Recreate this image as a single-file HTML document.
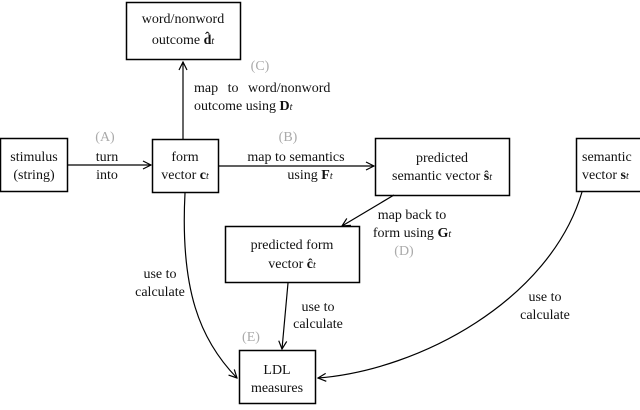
<!DOCTYPE html>
<html><head><style>
body{margin:0;background:#fff}
text{font-family:'Liberation Serif','DejaVu Serif',serif;font-size:14px;fill:#111}
.g{fill:#aaa}
</style></head><body>
<svg width="640" height="405" viewBox="0 0 640 405" xmlns="http://www.w3.org/2000/svg" font-family="Liberation Serif, DejaVu Serif, serif">
<defs><marker id="a" markerWidth="10" markerHeight="10" refX="9" refY="5" orient="auto" markerUnits="userSpaceOnUse"><path d="M1,1 L9,5 L1,9" fill="none" stroke="#000" stroke-width="1.2"/></marker></defs>
<g fill="none" stroke="#000" stroke-width="1.5">
<rect x="126.5" y="2.5" width="114" height="57"/>
<rect x="0.5" y="138.5" width="67" height="53"/>
<rect x="152.5" y="139.5" width="66" height="53"/>
<rect x="375.5" y="138.5" width="134" height="57"/>
<rect x="576.5" y="138.5" width="70" height="53"/>
<rect x="225.5" y="226.5" width="134" height="56"/>
<rect x="239.5" y="350.5" width="76" height="53"/>
</g>
<g fill="none" stroke="#000" stroke-width="1.2" marker-end="url(#a)">
<path d="M68,165 L151,165"/>
<path d="M183,139 L183,62"/>
<path d="M219,166 L374,166"/>
<path d="M394,195 L342,226"/>
<path d="M288,283 L282,349"/>
<path d="M185,193 C180,290 200,340 237,378"/>
<path d="M582,192 C550,300 420,370 318,378"/>
</g>
<g font-family="Liberation Serif, DejaVu Serif, serif">
<text x="183" y="23" text-anchor="middle">word/nonword</text>
<text x="183" y="44" text-anchor="middle">outcome <tspan font-weight="bold">d̂</tspan><tspan font-size="10" font-style="italic">t</tspan></text>
<text x="260" y="70" class="g" text-anchor="middle">(C)</text>
<text x="194" y="92" word-spacing="6">map to word/nonword</text>
<text x="194" y="110">outcome using <tspan font-weight="bold">D</tspan><tspan font-size="10" font-style="italic">t</tspan></text>
<text x="105" y="141" class="g" text-anchor="middle">(A)</text>
<text x="107" y="161" text-anchor="middle">turn</text>
<text x="107" y="179" text-anchor="middle">into</text>
<text x="34" y="161" text-anchor="middle">stimulus</text>
<text x="34" y="179" text-anchor="middle">(string)</text>
<text x="185" y="161" text-anchor="middle">form</text>
<text x="185" y="179" text-anchor="middle">vector <tspan font-weight="bold">c</tspan><tspan font-size="10" font-style="italic">t</tspan></text>
<text x="288" y="141" class="g" text-anchor="middle">(B)</text>
<text x="296" y="161" text-anchor="middle">map to semantics</text>
<text x="310" y="179" text-anchor="middle">using <tspan font-weight="bold">F</tspan><tspan font-size="10" font-style="italic">t</tspan></text>
<text x="442" y="162" text-anchor="middle">predicted</text>
<text x="442" y="180" text-anchor="middle">semantic vector <tspan font-weight="bold">ŝ</tspan><tspan font-size="10" font-style="italic">t</tspan></text>
<text x="582" y="161">semantic</text>
<text x="582" y="179">vector <tspan font-weight="bold">s</tspan><tspan font-size="10" font-style="italic">t</tspan></text>
<text x="412" y="219" text-anchor="middle">map back to</text>
<text x="412" y="237" text-anchor="middle">form using <tspan font-weight="bold">G</tspan><tspan font-size="10" font-style="italic">t</tspan></text>
<text x="404" y="255" class="g" text-anchor="middle">(D)</text>
<text x="292" y="249" text-anchor="middle">predicted form</text>
<text x="292" y="268" text-anchor="middle">vector <tspan font-weight="bold">ĉ</tspan><tspan font-size="10" font-style="italic">t</tspan></text>
<text x="160" y="278" text-anchor="middle">use to</text>
<text x="160" y="296" text-anchor="middle">calculate</text>
<text x="318" y="311" text-anchor="middle">use to</text>
<text x="318" y="328" text-anchor="middle">calculate</text>
<text x="251" y="341" class="g" text-anchor="middle">(E)</text>
<text x="277" y="374" text-anchor="middle">LDL</text>
<text x="277" y="392" text-anchor="middle">measures</text>
<text x="545" y="301" text-anchor="middle">use to</text>
<text x="545" y="319" text-anchor="middle">calculate</text>
</g>
</svg>
</body></html>
